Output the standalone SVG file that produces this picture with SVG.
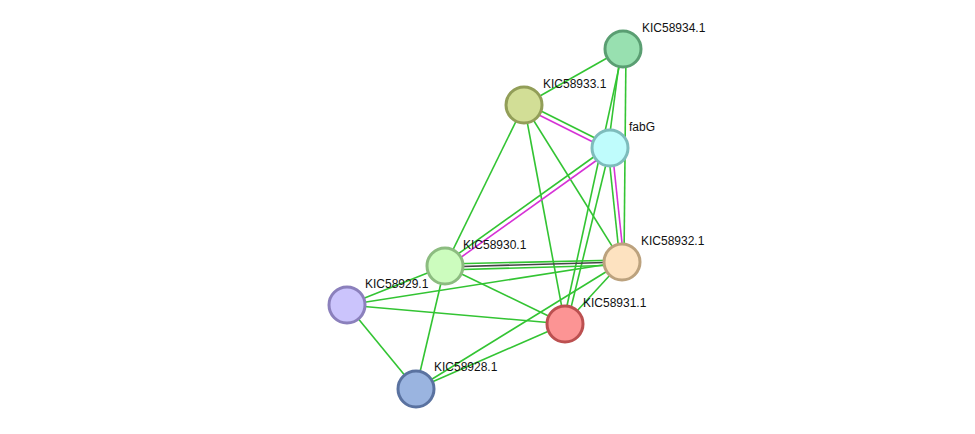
<svg xmlns="http://www.w3.org/2000/svg" width="975" height="434" viewBox="0 0 975 434">
<style>
.e{stroke:#33c433;stroke-width:1.6;fill:none}
.m{stroke:#d633d6;stroke-width:1.6;fill:none}
.k{stroke:#444;stroke-width:1.6;fill:none}
.n{stroke-width:3}
text{font-family:"Liberation Sans",Arial,sans-serif;font-size:12px;fill:#111}
</style>
<rect width="975" height="434" fill="#fff"/>
<g id="edges">
<line class="e" x1="623" y1="49" x2="524" y2="105"/>
<line class="e" x1="621" y1="49" x2="608" y2="148"/>
<line class="e" x1="623" y1="49" x2="563" y2="324"/>
<line class="e" x1="626" y1="49" x2="624" y2="262"/>
<line class="e" x1="525" y1="103" x2="611" y2="146"/>
<line class="m" x1="523" y1="107" x2="609" y2="150"/>
<line class="e" x1="524" y1="105" x2="445" y2="266"/>
<line class="e" x1="524" y1="105" x2="565" y2="324"/>
<line class="e" x1="524" y1="105" x2="622" y2="262"/>
<line class="e" x1="609" y1="146" x2="444" y2="264"/>
<line class="m" x1="611" y1="150" x2="446" y2="268"/>
<line class="e" x1="608" y1="148" x2="620" y2="262"/>
<line class="m" x1="612" y1="148" x2="624" y2="262"/>
<line class="e" x1="610" y1="148" x2="567" y2="324"/>
<line class="e" x1="622" y1="260" x2="445" y2="264"/>
<line class="k" x1="622" y1="262" x2="445" y2="267"/>
<line class="e" x1="622" y1="265" x2="445" y2="270"/>
<line class="e" x1="445" y1="266" x2="565" y2="324"/>
<line class="e" x1="445" y1="266" x2="416" y2="389"/>
<line class="e" x1="445" y1="266" x2="347" y2="305"/>
<line class="e" x1="347" y1="305" x2="622" y2="262"/>
<line class="e" x1="347" y1="305" x2="565" y2="324"/>
<line class="e" x1="347" y1="305" x2="416" y2="389"/>
<line class="e" x1="565" y1="324" x2="416" y2="389"/>
<line class="e" x1="622" y1="262" x2="565" y2="324"/>
<line class="e" x1="622" y1="262" x2="416" y2="389"/>
</g>
<g id="KIC58934.1"><circle class="n" cx="623" cy="49" r="18" fill="#98e0b0" stroke="#5a9e72"/><text x="642" y="32">KIC58934.1</text></g>
<g id="KIC58933.1"><circle class="n" cx="524" cy="105" r="18" fill="#d2de96" stroke="#929e58"/><text x="543" y="88">KIC58933.1</text></g>
<g id="fabG"><circle class="n" cx="610" cy="148" r="18" fill="#bffcfc" stroke="#7ebcbc"/><text x="629" y="131">fabG</text></g>
<g id="KIC58932.1"><circle class="n" cx="622" cy="262" r="18" fill="#fde2c0" stroke="#bca27e"/><text x="641" y="245">KIC58932.1</text></g>
<g id="KIC58930.1"><circle class="n" cx="445" cy="266" r="18" fill="#ccfcbe" stroke="#8cbc80"/><text x="463" y="249">KIC58930.1</text></g>
<g id="KIC58929.1"><circle class="n" cx="347" cy="305" r="18" fill="#cbc4fc" stroke="#8b80bc"/><text x="365" y="288">KIC58929.1</text></g>
<g id="KIC58931.1"><circle class="n" cx="565" cy="324" r="18" fill="#fc9494" stroke="#bc5050"/><text x="583" y="307">KIC58931.1</text></g>
<g id="KIC58928.1"><circle class="n" cx="416" cy="389" r="18" fill="#9ab4e0" stroke="#5a72a0"/><text x="434" y="371">KIC58928.1</text></g>
</svg>
